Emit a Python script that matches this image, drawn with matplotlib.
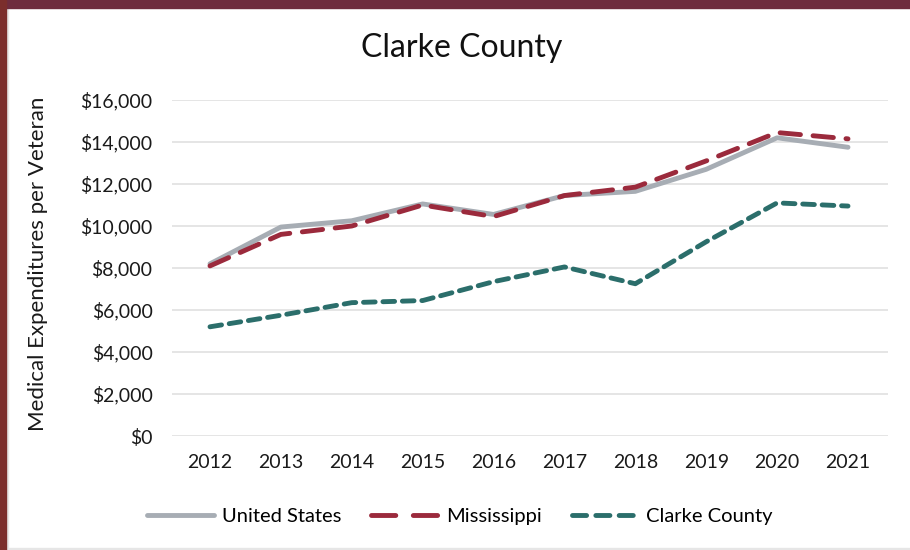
import matplotlib
matplotlib.use("Agg")
import matplotlib.pyplot as plt
from matplotlib.patches import Rectangle
from matplotlib.lines import Line2D
from matplotlib.ticker import FuncFormatter

plt.rcParams['font.family'] = ['Lato', 'DejaVu Sans']

# data
years = [2012, 2013, 2014, 2015, 2016, 2017, 2018, 2019, 2020, 2021]
united_states = [8200, 9950, 10250, 11050, 10550, 11450, 11650, 12700, 14200, 13750]
mississippi = [8100, 9600, 10000, 11000, 10450, 11450, 11850, 13100, 14450, 14150]
clarke_county = [5200, 5750, 6350, 6450, 7350, 8050, 7250, 9250, 11100, 10950]
y_ticks = [0, 2000, 4000, 6000, 8000, 10000, 12000, 14000, 16000]

US_C, MS_C, CC_C = '#A7ADB4', '#9B2A3C', '#2B6E6B'

W, H = 910, 550
fig = plt.figure(figsize=(W / 100, H / 100), dpi=100)
fig.patch.set_facecolor('white')

# frame around the chart
fig.patches.append(Rectangle((0, 1 - 8 / H), 1, 8 / H, transform=fig.transFigure,
                             color='#6E2C3E', zorder=5))
fig.patches.append(Rectangle((0, 0), 6 / W, 1, transform=fig.transFigure,
                             color='#7B2E2C', zorder=5))
fig.patches.append(Rectangle((6 / W, 0), 2 / W, 1 - 8 / H, transform=fig.transFigure,
                             color='#E6E6E6', zorder=4))
fig.patches.append(Rectangle((6 / W, 0), 1, 2 / H, transform=fig.transFigure,
                             color='#E6E6E6', zorder=4))

ax = fig.add_axes([172 / W, 1 - 436 / H, (888 - 172) / W, 336 / H])

ax.plot(years, united_states, color=US_C, lw=3.5, solid_capstyle='round', zorder=3)
ax.plot(years, mississippi, color=MS_C, lw=3.5, dashes=(4.2, 2.6),
        dash_capstyle='round', zorder=4)
ax.plot(years, clarke_county, color=CC_C, lw=3.5, dashes=(2.4, 1.6),
        dash_capstyle='round', zorder=4)

ax.set_ylim(0, 16000)
ax.set_yticks(y_ticks)
ax.yaxis.set_major_formatter(FuncFormatter(lambda v, p: '${:,.0f}'.format(v)))
step = (848 - 210) / 9
ax.set_xlim(2012 - (210 - 172) / step, 2021 + (888 - 848) / step)
ax.set_xticks(years)
ax.set_xticklabels([str(y) for y in years])

ax.grid(axis='y', color='#E3E3E3', lw=1.3)
ax.set_axisbelow(True)
for s in ax.spines.values():
    s.set_visible(False)
ax.tick_params(axis='both', length=0, labelsize=14, colors='#1A1A1A')
ax.tick_params(axis='x', pad=13)
ax.tick_params(axis='y', pad=14)

fig.text(38 / W, 1 - 264 / H, 'Medical Expenditures per Veteran', rotation=90,
         ha='center', va='center', fontsize=16, color='#1A1A1A')
fig.text(462 / W, 1 - 48 / H, 'Clarke County', ha='center', va='center',
         fontsize=23, color='#111111')

# legend proxies so the short legend samples show whole dashes
handles = [
    Line2D([], [], color=US_C, lw=3.5, solid_capstyle='round'),
    Line2D([], [], color=MS_C, lw=3.5, dashes=(5.0, 3.6), dash_capstyle='round'),
    Line2D([], [], color=CC_C, lw=3.5, dashes=(2.9, 1.9), dash_capstyle='round'),
]
labels = ['United States', 'Mississippi', 'Clarke County']
fig.legend(handles, labels, loc='center', bbox_to_anchor=(460 / W, 1 - 516 / H),
           ncol=3, frameon=False, fontsize=14.5, handlelength=3.3,
           columnspacing=1.5, handletextpad=0.4)

fig.savefig('out.png', dpi=100)
